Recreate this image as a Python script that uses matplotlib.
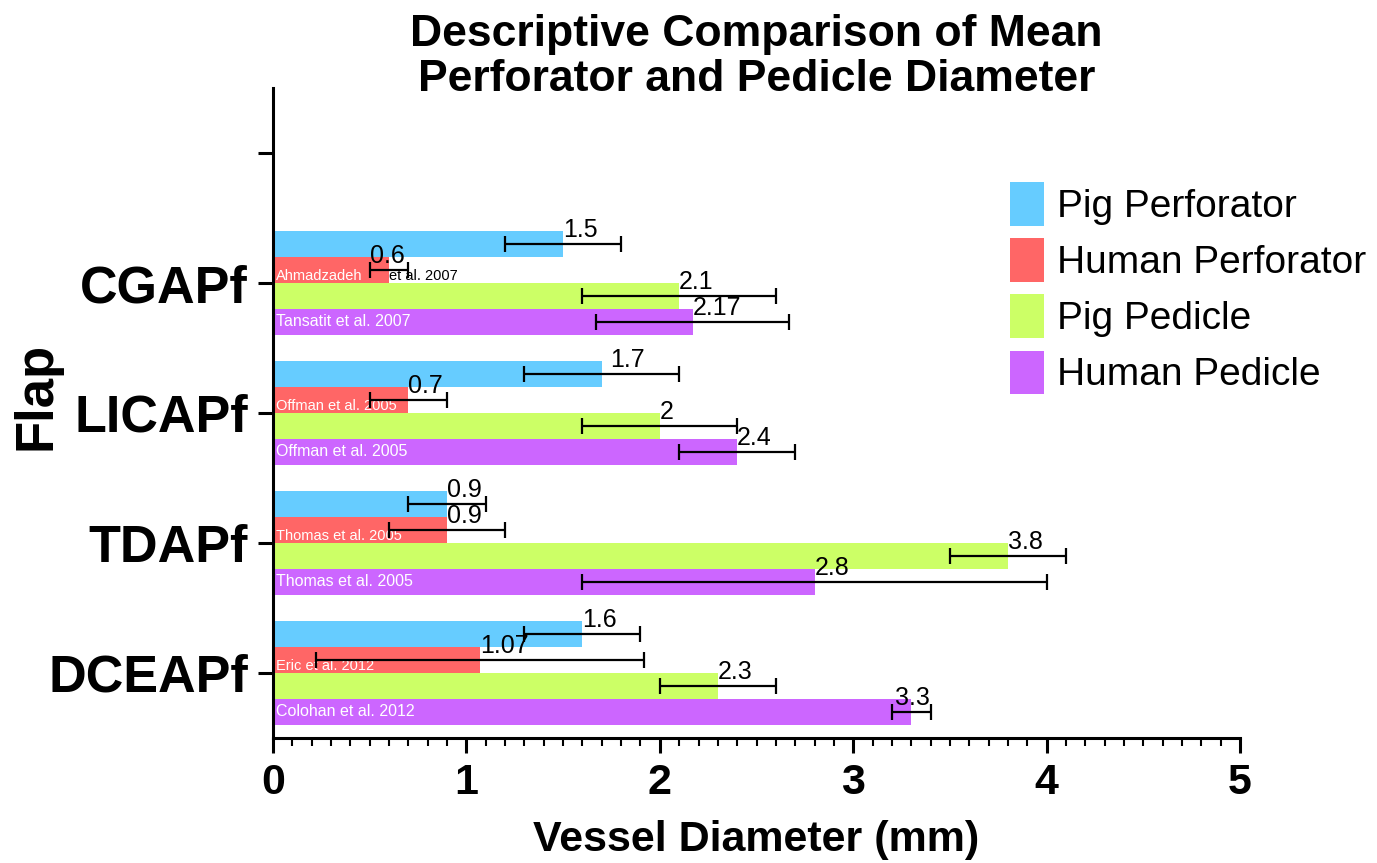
import numpy as np
import matplotlib
matplotlib.use("Agg")
import matplotlib.pyplot as plt
from matplotlib.patches import Patch

plt.rcParams['font.family'] = ['Liberation Sans', 'DejaVu Sans']

# flaps, bottom to top; the empty slot on top keeps a spare tick
flaps = ["DCEAPf", "TDAPf", "LICAPf", "CGAPf"]

series_names = ["Pig Perforator", "Human Perforator", "Pig Pedicle", "Human Pedicle"]
series_colors = ["#66CCFF", "#FF6666", "#CCFF66", "#CC66FF"]

# mean diameters (mm) per flap
pig_perf = [1.6, 0.9, 1.7, 1.5]
human_perf = [1.07, 0.9, 0.7, 0.6]
pig_ped = [2.3, 3.8, 2.0, 2.1]
human_ped = [3.3, 2.8, 2.4, 2.17]

# spread shown as error bars
pig_perf_err = [0.3, 0.2, 0.4, 0.3]
human_perf_err = [0.85, 0.3, 0.2, 0.1]
pig_ped_err = [0.3, 0.3, 0.4, 0.5]
human_ped_err = [0.1, 1.2, 0.3, 0.5]

# literature sources for the human values ("|" = part that runs past the bar)
human_perf_refs = ["Eric et al. 2012", "Thomas et al. 2005", "Offman et al. 2005", "Ahmadzadeh|et al. 2007"]
human_ped_refs = ["Colohan et al. 2012", "Thomas et al. 2005", "Offman et al. 2005", "Tansatit et al. 2007"]

values = [pig_perf, human_perf, pig_ped, human_ped]
errors = [pig_perf_err, human_perf_err, pig_ped_err, human_ped_err]

bar_h = 0.2
offsets = [0.3, 0.1, -0.1, -0.3]
# nudges (points) for a couple of value labels that would sit on an error cap
label_nudge = {(1, 3): -14, (3, 0): -12, (0, 2): 6}

fig = plt.figure(figsize=(13.77, 8.63), dpi=100)
ax = fig.add_axes([0.1983, 0.1449, 0.7022, 0.7531])

ypos = np.arange(len(flaps))
for s in range(4):
    y = ypos + offsets[s]
    ax.barh(y, values[s], height=bar_h, color=series_colors[s], zorder=1)
    ax.errorbar(values[s], y, xerr=errors[s], fmt='none', ecolor='black',
                elinewidth=1.6, capsize=6, capthick=1.6, zorder=3)
    for i, v in enumerate(values[s]):
        dx = label_nudge.get((s, i), 0)
        ax.annotate(f"{v:g}", (v, y[i] + bar_h / 2), xytext=(dx, 1),
                    textcoords='offset points', ha='left', va='center',
                    fontsize=18, zorder=4)

# source labels inside the human bars
for i, ref in enumerate(human_perf_refs):
    y = ypos[i] + offsets[1] - 0.045
    parts = ref.split("|")
    ax.text(0.015, y, parts[0], color='white', fontsize=10.5, va='center', ha='left', zorder=2)
    if len(parts) > 1:
        ax.text(human_perf[i], y, parts[1], color='black', fontsize=10.5,
                va='center', ha='left', zorder=2)
for i, ref in enumerate(human_ped_refs):
    y = ypos[i] + offsets[3]
    ax.text(0.015, y, ref, color='white', fontsize=11.5, va='center', ha='left', zorder=2)

ax.set_xlim(0, 5)
ax.set_ylim(-0.5, 4.5)
ax.set_xticks(range(6))
ax.set_xticks(np.arange(0, 5.01, 0.1), minor=True)
ax.set_yticks(list(ypos) + [len(flaps)])
ax.set_yticklabels(flaps + [""])

for side in ['top', 'right']:
    ax.spines[side].set_visible(False)
for side in ['left', 'bottom']:
    ax.spines[side].set_linewidth(2.2)

ax.tick_params(axis='both', which='major', length=11, width=2.2, pad=7)
ax.tick_params(axis='x', which='minor', length=5.5, width=1.5)
ax.tick_params(axis='y', which='minor', left=False)
for lbl in ax.get_xticklabels():
    lbl.set_fontsize(31)
    lbl.set_fontweight('bold')
for lbl in ax.get_yticklabels():
    lbl.set_fontsize(37.5)
    lbl.set_fontweight('bold')

ax.set_xlabel("Vessel Diameter (mm)", fontsize=31, fontweight='bold', labelpad=12)
ax.set_ylabel("Flap", fontsize=38, fontweight='bold')
ax.yaxis.set_label_coords(-0.219, 0.527)

# title centred over the plot area
fig.text(0.5493, 0.984, "Descriptive Comparison of Mean\nPerforator and Pedicle Diameter",
         ha='center', va='top', fontsize=32, fontweight='bold', linespacing=1.13)

handles = [Patch(facecolor=c, edgecolor='none') for c in series_colors]
ax.legend(handles, series_names, loc='upper left', bbox_to_anchor=(0.762, 0.855),
          frameon=False, fontsize=28, handlelength=0.87, handleheight=1.35,
          handletextpad=0.35, labelspacing=0.32, borderpad=0, borderaxespad=0)

fig.savefig("out.png", dpi=100)
